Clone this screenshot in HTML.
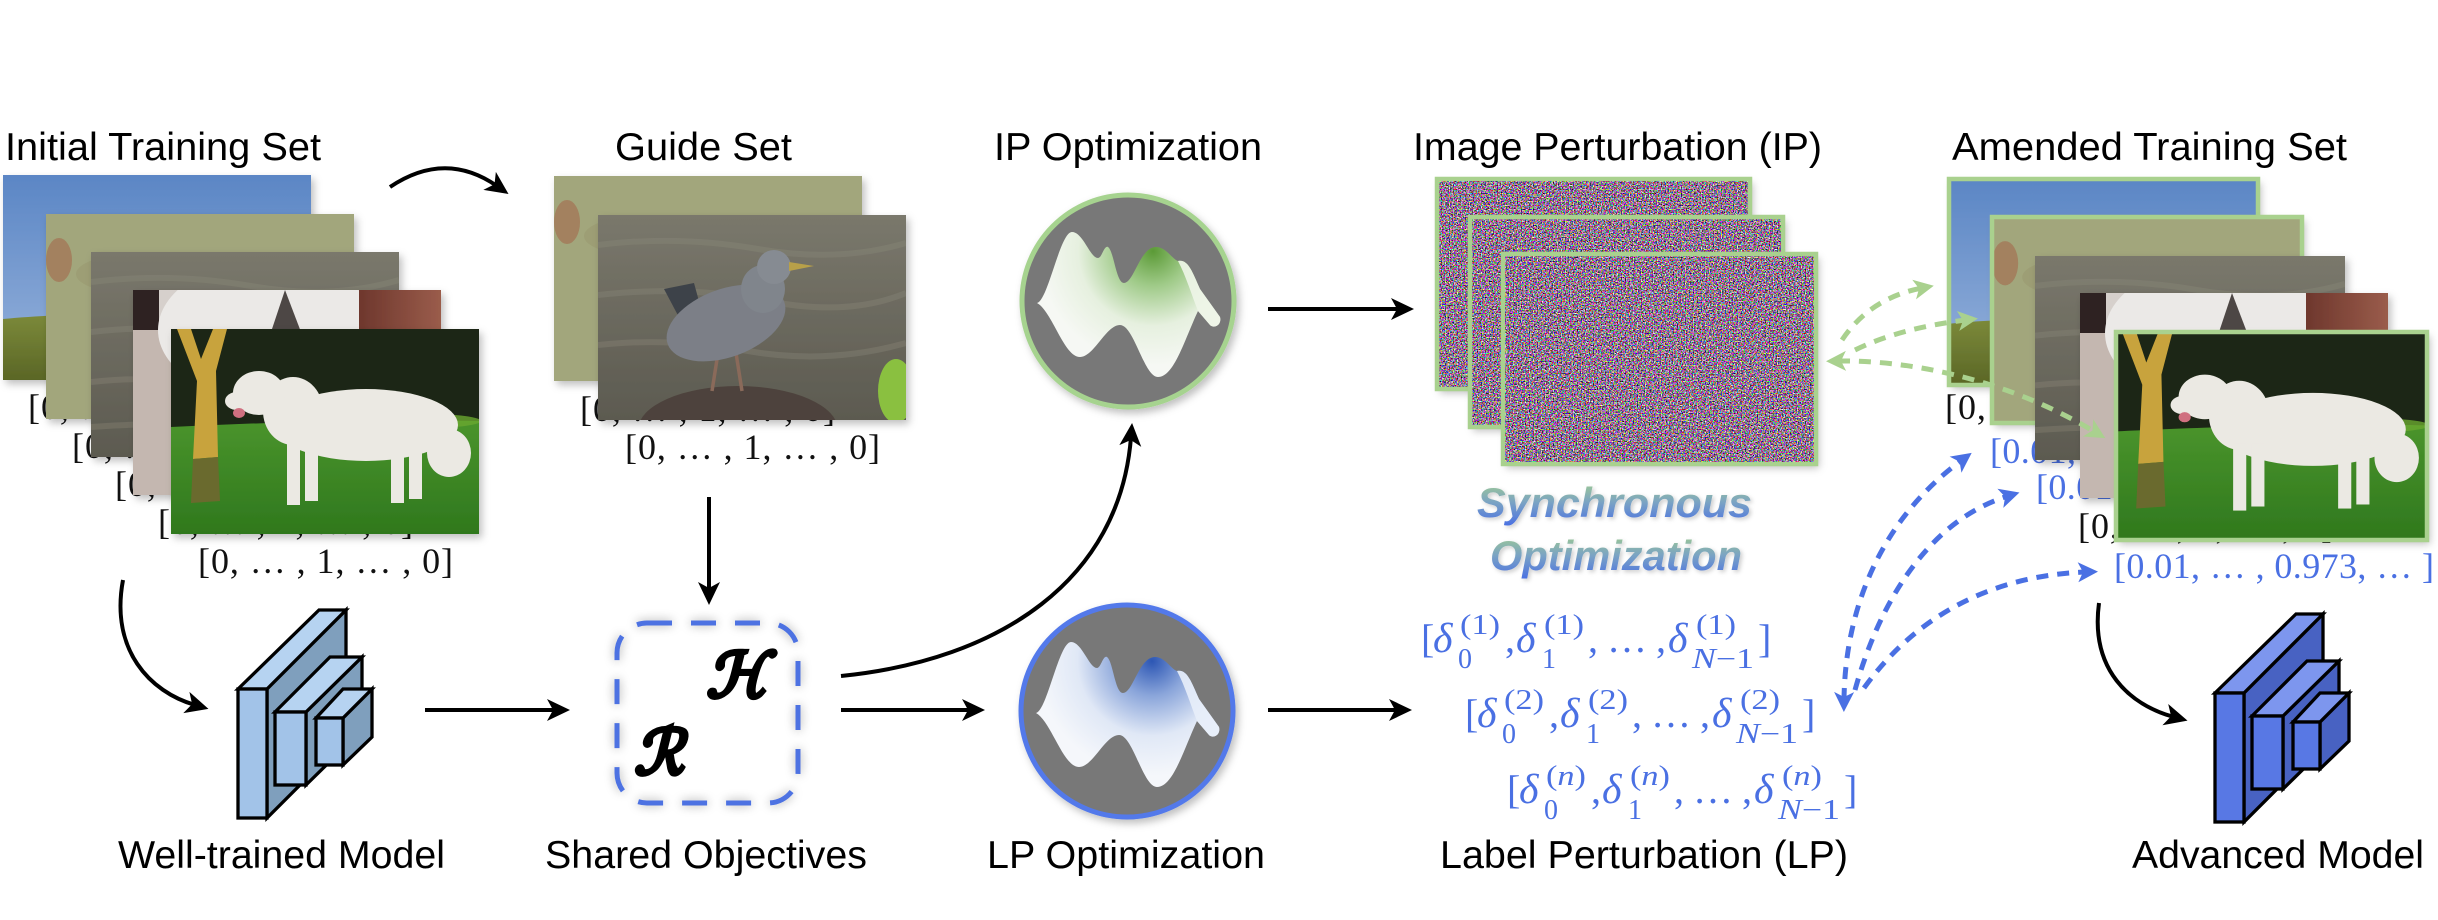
<!DOCTYPE html>
<html><head><meta charset="utf-8">
<style>
html,body{margin:0;padding:0;background:#fff;}
svg{display:block;}
.t{font-family:"Liberation Sans",Arial,sans-serif;font-size:39px;fill:#000;}
.s{font-family:"Liberation Serif","DejaVu Serif",serif;font-size:36px;fill:#111;}
.sb{font-family:"Liberation Serif","DejaVu Serif",serif;font-size:36px;fill:#4a70e3;}
.d{font-family:"Liberation Serif","DejaVu Serif",serif;fill:#4a70e3;}
</style></head><body>
<svg width="2438" height="920" viewBox="0 0 2438 920" xmlns="http://www.w3.org/2000/svg" xmlns:xlink="http://www.w3.org/1999/xlink">
<defs>
  <linearGradient id="gSky" x1="0" y1="0" x2="0" y2="1"><stop offset="0" stop-color="#5b86c5"/><stop offset="0.7" stop-color="#86a6d5"/><stop offset="1" stop-color="#8fb0da"/></linearGradient>
  <linearGradient id="gHill" x1="0" y1="0" x2="0" y2="1"><stop offset="0" stop-color="#7c8a3a"/><stop offset="1" stop-color="#5a6626"/></linearGradient>
  <linearGradient id="gWater" x1="0" y1="0" x2="0" y2="1"><stop offset="0" stop-color="#7a786c"/><stop offset="1" stop-color="#5c5a50"/></linearGradient>
  <linearGradient id="gBrown" x1="0" y1="0" x2="1" y2="0"><stop offset="0" stop-color="#6e372d"/><stop offset="1" stop-color="#9a5c4b"/></linearGradient>
  <linearGradient id="gGrass2" x1="0" y1="0" x2="0" y2="1"><stop offset="0" stop-color="#4a942c"/><stop offset="1" stop-color="#2f781d"/></linearGradient>
  <linearGradient id="gSync" x1="0" y1="0" x2="0" y2="1"><stop offset="0" stop-color="#a3cf8c"/><stop offset="0.5" stop-color="#7aa3c4"/><stop offset="1" stop-color="#4a70e3"/></linearGradient>
  <radialGradient id="gWaveG" cx="25" cy="-50" r="115" gradientUnits="userSpaceOnUse"><stop offset="0" stop-color="#5b9a36"/><stop offset="0.3" stop-color="#9fca88"/><stop offset="0.65" stop-color="#e6f0df"/><stop offset="1" stop-color="#f6f8f4"/></radialGradient>
  <radialGradient id="gWaveB" cx="25" cy="-50" r="115" gradientUnits="userSpaceOnUse"><stop offset="0" stop-color="#2c56b4"/><stop offset="0.3" stop-color="#8aa5da"/><stop offset="0.65" stop-color="#e0e8f6"/><stop offset="1" stop-color="#f5f7fb"/></radialGradient>

  <filter id="noise" x="0" y="0" width="1" height="1" filterUnits="objectBoundingBox" color-interpolation-filters="sRGB">
    <feTurbulence type="fractalNoise" baseFrequency="0.75" numOctaves="2" seed="3"/>
    <feColorMatrix type="matrix" values="3.4 0 0 0 -1.12  0 3.4 0 0 -1.25  0 0 3.4 0 -1.12  0 0 0 0 1"/>
  </filter>
  <filter id="sh" x="-10%" y="-10%" width="125%" height="130%">
    <feDropShadow dx="3" dy="4" stdDeviation="4" flood-color="#000" flood-opacity="0.25"/>
  </filter>
  <filter id="glow" x="-20%" y="-20%" width="140%" height="140%">
    <feDropShadow dx="0" dy="0" stdDeviation="5" flood-color="#000" flood-opacity="0.35"/>
  </filter>
  <filter id="tsh" x="-10%" y="-20%" width="120%" height="150%">
    <feDropShadow dx="2" dy="2" stdDeviation="2" flood-color="#000" flood-opacity="0.2"/>
  </filter>

  <marker id="ab" viewBox="-10 -12 26 24" refX="0" refY="0" markerWidth="26" markerHeight="24" markerUnits="userSpaceOnUse" orient="auto">
    <path d="M14,0 L-9,-11 L-3,0 L-9,11Z" fill="#000"/>
  </marker>
  <marker id="ag" viewBox="-10 -11 24 22" refX="0" refY="0" markerWidth="24" markerHeight="22" markerUnits="userSpaceOnUse" orient="auto-start-reverse">
    <path d="M12,0 L-8,-10 L-3,0 L-8,10Z" fill="#a9d18e"/>
  </marker>
  <marker id="abl" viewBox="-10 -11 24 22" refX="0" refY="0" markerWidth="24" markerHeight="22" markerUnits="userSpaceOnUse" orient="auto-start-reverse">
    <path d="M12,0 L-8,-10 L-3,0 L-8,10Z" fill="#4a70e3"/>
  </marker>

  <symbol id="pSky" viewBox="0 0 308 205" preserveAspectRatio="none">
    <rect width="308" height="205" fill="url(#gSky)"/>
    <path d="M0,144 C80,136 200,138 308,150 L308,205 L0,205Z" fill="url(#gHill)"/>
  </symbol>
  <symbol id="pGrass" viewBox="0 0 308 205" preserveAspectRatio="none">
    <rect width="308" height="205" fill="#a2a67b"/>
    <ellipse cx="90" cy="60" rx="60" ry="20" fill="#9a9a70" opacity="0.6"/>
    <ellipse cx="220" cy="140" rx="70" ry="25" fill="#adb084" opacity="0.6"/>
    <ellipse cx="150" cy="110" rx="40" ry="14" fill="#8f9066" opacity="0.5"/>
    <ellipse cx="13" cy="46" rx="13" ry="22" fill="#a3815f"/>
  </symbol>
  <symbol id="pWater" viewBox="0 0 308 205" preserveAspectRatio="none">
    <rect width="308" height="205" fill="url(#gWater)"/>
    <path d="M0,30 Q80,20 160,34 T308,28 M0,80 Q90,70 170,86 T308,78 M0,130 Q70,122 150,136 T308,128 M0,175 Q90,168 170,180 T308,172" stroke="#8c8a7a" stroke-width="6" fill="none" opacity="0.35"/>
  </symbol>
  <symbol id="pClose" viewBox="0 0 308 205" preserveAspectRatio="none">
    <rect width="308" height="205" fill="#d6d0cc"/>
    <rect x="0" y="0" width="26" height="70" fill="#2e2421"/>
    <rect x="0" y="40" width="40" height="165" fill="#c4b7b0"/>
    <ellipse cx="135" cy="40" rx="110" ry="70" fill="#ebe9e7"/>
    <rect x="226" y="0" width="82" height="205" fill="url(#gBrown)"/>
    <path d="M138,42 L152,0 L168,42Z" fill="#4e4644"/>
  </symbol>
  <symbol id="pDog" viewBox="0 0 308 205" preserveAspectRatio="none">
    <rect width="308" height="205" fill="#1b2513"/>
    <path d="M0,98 C80,94 200,90 308,92 L308,205 L0,205Z" fill="url(#gGrass2)"/>
    <ellipse cx="255" cy="92" rx="55" ry="7" fill="#6aa830" opacity="0.8"/>
    <path d="M6,0 L20,0 L30,30 L42,0 L56,0 L45,42 L47,128 L22,130 L26,52Z" fill="#c8a33c"/>
    <path d="M22,130 L47,128 L49,172 L20,174Z" fill="#6b6a2e"/>
    <g fill="#ebe9e3">
      <ellipse cx="195" cy="96" rx="92" ry="36"/>
      <ellipse cx="122" cy="82" rx="30" ry="34"/>
      <ellipse cx="88" cy="64" rx="26" ry="22"/>
      <ellipse cx="66" cy="72" rx="12" ry="9"/>
      <rect x="116" y="110" width="13" height="66"/>
      <rect x="134" y="110" width="13" height="62"/>
      <rect x="220" y="112" width="13" height="62"/>
      <rect x="238" y="112" width="13" height="58"/>
      <ellipse cx="278" cy="124" rx="22" ry="24"/>
    </g>
    <ellipse cx="68" cy="84" rx="6" ry="5" fill="#d07080"/>
  </symbol>
  <symbol id="pBird" viewBox="0 0 308 205" preserveAspectRatio="none">
    <rect width="308" height="205" fill="url(#gWater)"/>
    <path d="M0,30 Q80,20 160,34 T308,28 M0,80 Q90,70 170,86 T308,78 M0,130 Q70,122 150,136 T308,128" stroke="#8c8a7a" stroke-width="6" fill="none" opacity="0.35"/>
    <ellipse cx="140" cy="215" rx="100" ry="44" fill="#4d423c"/>
    <path d="M120,138 L114,176 M138,138 L144,176" stroke="#8a6a5a" stroke-width="3.5"/>
    <path d="M66,74 L96,68 L108,112 L84,108Z" fill="#3e4248"/>
    <ellipse cx="128" cy="108" rx="62" ry="34" fill="#7b7f87" transform="rotate(-20 128 108)"/>
    <ellipse cx="165" cy="74" rx="22" ry="24" fill="#80858c"/>
    <circle cx="176" cy="52" r="17" fill="#868b92"/>
    <path d="M191,47 L216,51 L191,56Z" fill="#b8a04a"/>
    <ellipse cx="298" cy="176" rx="18" ry="32" fill="#8ac040"/>
  </symbol>
</defs>

<rect width="2438" height="920" fill="#fff"/>

<!-- Titles -->
<text class="t" x="5" y="160" textLength="316" lengthAdjust="spacingAndGlyphs">Initial Training Set</text>
<text class="t" x="615" y="160" textLength="177" lengthAdjust="spacingAndGlyphs">Guide Set</text>
<text class="t" x="994" y="160" textLength="268" lengthAdjust="spacingAndGlyphs">IP Optimization</text>
<text class="t" x="1413" y="160" textLength="409" lengthAdjust="spacingAndGlyphs">Image Perturbation (IP)</text>
<text class="t" x="1952" y="160" textLength="395" lengthAdjust="spacingAndGlyphs">Amended Training Set</text>

<!-- Bottom labels -->
<text class="t" x="118" y="868" textLength="327" lengthAdjust="spacingAndGlyphs">Well-trained Model</text>
<text class="t" x="545" y="868" textLength="322" lengthAdjust="spacingAndGlyphs">Shared Objectives</text>
<text class="t" x="987" y="868" textLength="278" lengthAdjust="spacingAndGlyphs">LP Optimization</text>
<text class="t" x="1440" y="868" textLength="408" lengthAdjust="spacingAndGlyphs">Label Perturbation (LP)</text>
<text class="t" x="2132" y="868" textLength="292" lengthAdjust="spacingAndGlyphs">Advanced Model</text>

<!-- Initial training set -->
<use href="#pSky" x="3" y="175" width="308" height="205" filter="url(#sh)"/>
<text class="s" x="28" y="419" textLength="255" lengthAdjust="spacing">[0, … , 1, … , 0]</text>
<use href="#pGrass" x="46" y="214" width="308" height="205" filter="url(#sh)"/>
<text class="s" x="72" y="458" textLength="255" lengthAdjust="spacing">[0, … , 1, … , 0]</text>
<use href="#pWater" x="91" y="252" width="308" height="205" filter="url(#sh)"/>
<text class="s" x="115" y="496" textLength="255" lengthAdjust="spacing">[0, … , 1, … , 0]</text>
<use href="#pClose" x="133" y="290" width="308" height="205" filter="url(#sh)"/>
<text class="s" x="158" y="534" textLength="255" lengthAdjust="spacing">[0, … , 1, … , 0]</text>
<use href="#pDog" x="171" y="329" width="308" height="205" filter="url(#sh)"/>
<text class="s" x="198" y="573" textLength="255" lengthAdjust="spacing">[0, … , 1, … , 0]</text>

<!-- Guide set -->
<use href="#pGrass" x="554" y="176" width="308" height="205" filter="url(#sh)"/>
<text class="s" x="580" y="421" textLength="255" lengthAdjust="spacing">[0, … , 1, … , 0]</text>
<use href="#pBird" x="598" y="215" width="308" height="205" filter="url(#sh)"/>
<text class="s" x="625" y="459" textLength="255" lengthAdjust="spacing">[0, … , 1, … , 0]</text>

<!-- Black arrows -->
<g fill="none" stroke="#000" stroke-width="4" marker-end="url(#ab)">
  <path d="M390,187 Q445,150 497,186"/>
  <path d="M709,497 V591"/>
  <path d="M123,580 C110,650 150,692 195,705"/>
  <path d="M425,710 H556"/>
  <path d="M841,710 H971"/>
  <path d="M841,676 C1000,660 1120,580 1131,437"/>
  <path d="M1268,309 H1400"/>
  <path d="M1268,710 H1398"/>
  <path d="M2099,603 C2090,670 2130,705 2174,717"/>
</g>

<!-- Well-trained model -->
<g stroke="#000" stroke-width="3.3" stroke-linejoin="miter">
  <polygon points="267,689 346,610 346,739 267,818" fill="#7f9fbd"/>
  <polygon points="238,689 319,610 346,610 267,689" fill="#b6d3f1"/>
  <rect x="238" y="689" width="29" height="129" fill="#a2c3e8"/>
  <polygon points="306,712 362,657 362,730 306,785" fill="#7f9fbd"/>
  <polygon points="275,712 330,657 362,657 306,712" fill="#b6d3f1"/>
  <rect x="275" y="712" width="31" height="73" fill="#a2c3e8"/>
  <polygon points="343,718 372,689 372,737 343,765" fill="#7f9fbd"/>
  <polygon points="316,718 343,689 372,689 343,718" fill="#b6d3f1"/>
  <rect x="316" y="718" width="27" height="47" fill="#a2c3e8"/>
</g>

<!-- Advanced model -->
<g stroke="#000" stroke-width="3.3" transform="translate(1977,4)">
  <polygon points="267,689 346,610 346,739 267,818" fill="#4862c2"/>
  <polygon points="238,689 319,610 346,610 267,689" fill="#7d96ee"/>
  <rect x="238" y="689" width="29" height="129" fill="#5878e4"/>
  <polygon points="306,712 362,657 362,730 306,785" fill="#4862c2"/>
  <polygon points="275,712 330,657 362,657 306,712" fill="#7d96ee"/>
  <rect x="275" y="712" width="31" height="73" fill="#5878e4"/>
  <polygon points="343,718 372,689 372,737 343,765" fill="#4862c2"/>
  <polygon points="316,718 343,689 372,689 343,718" fill="#7d96ee"/>
  <rect x="316" y="718" width="27" height="47" fill="#5878e4"/>
</g>

<!-- Shared objectives -->
<rect x="617" y="623" width="181" height="180" rx="30" ry="30" fill="none" stroke="#4d72e2" stroke-width="5" stroke-dasharray="25 19" filter="url(#glow)"/>
<text x="706" y="697" font-family="'DejaVu Serif','Liberation Serif',serif" font-size="62" font-weight="bold" font-style="italic" fill="#000" stroke="#000" stroke-width="2.6">ℋ</text>
<text x="634" y="774" font-family="'DejaVu Serif','Liberation Serif',serif" font-size="62" font-weight="bold" font-style="italic" fill="#000" stroke="#000" stroke-width="2.6">ℛ</text>

<!-- IP circle -->
<circle cx="1128" cy="301" r="106" fill="#787878" stroke="#a6d38f" stroke-width="5" filter="url(#sh)"/>
<g transform="translate(1128,301)">
<path d="M-91,2 C-80,0 -68,-69 -56,-69 C-45,-69 -38,-43 -30,-43 C-26,-43 -24,-56 -20,-54 C-14,-50 -12,-18 -4,-18 C6,-18 12,-54 28,-54 C38,-54 44,-42 50,-40 C60,-42 64,-30 72,-12 L92,16 C94,24 86,28 82,24 L70,10 C56,40 46,76 30,76 C16,76 6,24 -8,24 C-22,24 -34,56 -48,56 C-64,56 -76,10 -91,2Z" fill="url(#gWaveG)"/>
<path d="M50,-40 C60,-42 64,-30 72,-12 L92,16 C94,24 86,28 82,24 L70,10 C64,-5 58,-25 50,-40Z" fill="#eef5e8" opacity="0.9"/>
</g>

<!-- LP circle -->
<circle cx="1127" cy="711" r="106" fill="#787878" stroke="#5279ea" stroke-width="5" filter="url(#sh)"/>
<g transform="translate(1127,711)">
<path d="M-91,2 C-80,0 -68,-69 -56,-69 C-45,-69 -38,-43 -30,-43 C-26,-43 -24,-56 -20,-54 C-14,-50 -12,-18 -4,-18 C6,-18 12,-54 28,-54 C38,-54 44,-42 50,-40 C60,-42 64,-30 72,-12 L92,16 C94,24 86,28 82,24 L70,10 C56,40 46,76 30,76 C16,76 6,24 -8,24 C-22,24 -34,56 -48,56 C-64,56 -76,10 -91,2Z" fill="url(#gWaveB)"/>
<path d="M50,-40 C60,-42 64,-30 72,-12 L92,16 C94,24 86,28 82,24 L70,10 C64,-5 58,-25 50,-40Z" fill="#e8eef9" opacity="0.9"/>
</g>

<!-- Noise images -->
<g filter="url(#sh)">
  <rect x="1437" y="179" width="313" height="210" filter="url(#noise)"/>
</g>
<rect x="1437" y="179" width="313" height="210" fill="none" stroke="#a9d18e" stroke-width="4.5"/>
<g filter="url(#sh)">
  <rect x="1470" y="217" width="313" height="210" filter="url(#noise)"/>
</g>
<rect x="1470" y="217" width="313" height="210" fill="none" stroke="#a9d18e" stroke-width="4.5"/>
<g filter="url(#sh)">
  <rect x="1503" y="254" width="313" height="210" filter="url(#noise)"/>
</g>
<rect x="1503" y="254" width="313" height="210" fill="none" stroke="#a9d18e" stroke-width="4.5"/>

<!-- Synchronous Optimization -->
<g filter="url(#tsh)" font-family="'Liberation Sans',Arial,sans-serif" font-weight="bold" font-style="italic" font-size="42" fill="url(#gSync)">
  <text x="1477" y="517" textLength="275" lengthAdjust="spacingAndGlyphs">Synchronous</text>
  <text x="1490" y="570" textLength="252" lengthAdjust="spacingAndGlyphs">Optimization</text>
</g>

<!-- Delta lines -->
<g class="d">
  <g>
    <text x="1421" y="652" font-size="40">[</text>
    <text x="1433" y="652" font-size="42" font-style="italic">δ</text>
    <text x="1460" y="634" font-size="28" textLength="40" lengthAdjust="spacingAndGlyphs">(1)</text>
    <text x="1458" y="668" font-size="28">0</text>
    <text x="1505" y="652" font-size="40">,</text>
    <text x="1516" y="652" font-size="42" font-style="italic">δ</text>
    <text x="1544" y="634" font-size="28" textLength="40" lengthAdjust="spacingAndGlyphs">(1)</text>
    <text x="1542" y="668" font-size="28">1</text>
    <text x="1588" y="652" font-size="40" textLength="78" lengthAdjust="spacing">, … ,</text>
    <text x="1668" y="652" font-size="42" font-style="italic">δ</text>
    <text x="1696" y="634" font-size="28" textLength="40" lengthAdjust="spacingAndGlyphs">(1)</text>
    <text x="1692" y="668" font-size="28" textLength="62" lengthAdjust="spacingAndGlyphs"><tspan font-style="italic">N</tspan>−1</text>
    <text x="1758" y="652" font-size="40">]</text>
  </g>
  <g transform="translate(44,75)">
    <text x="1421" y="652" font-size="40">[</text>
    <text x="1433" y="652" font-size="42" font-style="italic">δ</text>
    <text x="1460" y="634" font-size="28" textLength="40" lengthAdjust="spacingAndGlyphs">(2)</text>
    <text x="1458" y="668" font-size="28">0</text>
    <text x="1505" y="652" font-size="40">,</text>
    <text x="1516" y="652" font-size="42" font-style="italic">δ</text>
    <text x="1544" y="634" font-size="28" textLength="40" lengthAdjust="spacingAndGlyphs">(2)</text>
    <text x="1542" y="668" font-size="28">1</text>
    <text x="1588" y="652" font-size="40" textLength="78" lengthAdjust="spacing">, … ,</text>
    <text x="1668" y="652" font-size="42" font-style="italic">δ</text>
    <text x="1696" y="634" font-size="28" textLength="40" lengthAdjust="spacingAndGlyphs">(2)</text>
    <text x="1692" y="668" font-size="28" textLength="62" lengthAdjust="spacingAndGlyphs"><tspan font-style="italic">N</tspan>−1</text>
    <text x="1758" y="652" font-size="40">]</text>
  </g>
  <g transform="translate(86,151)">
    <text x="1421" y="652" font-size="40">[</text>
    <text x="1433" y="652" font-size="42" font-style="italic">δ</text>
    <text x="1460" y="634" font-size="28" textLength="40" lengthAdjust="spacingAndGlyphs">(<tspan font-style="italic">n</tspan>)</text>
    <text x="1458" y="668" font-size="28">0</text>
    <text x="1505" y="652" font-size="40">,</text>
    <text x="1516" y="652" font-size="42" font-style="italic">δ</text>
    <text x="1544" y="634" font-size="28" textLength="40" lengthAdjust="spacingAndGlyphs">(<tspan font-style="italic">n</tspan>)</text>
    <text x="1542" y="668" font-size="28">1</text>
    <text x="1588" y="652" font-size="40" textLength="78" lengthAdjust="spacing">, … ,</text>
    <text x="1668" y="652" font-size="42" font-style="italic">δ</text>
    <text x="1696" y="634" font-size="28" textLength="40" lengthAdjust="spacingAndGlyphs">(<tspan font-style="italic">n</tspan>)</text>
    <text x="1692" y="668" font-size="28" textLength="62" lengthAdjust="spacingAndGlyphs"><tspan font-style="italic">N</tspan>−1</text>
    <text x="1758" y="652" font-size="40">]</text>
  </g>
</g>

<!-- Amended training set -->
<use href="#pSky" x="1949" y="179" width="309" height="206" filter="url(#sh)"/>
<rect x="1949" y="179" width="309" height="206" fill="none" stroke="#a9d18e" stroke-width="4.5"/>
<text class="s" x="1945" y="419" textLength="255" lengthAdjust="spacing">[0, … , 1, … , 0]</text>
<use href="#pGrass" x="1992" y="217" width="310" height="206" filter="url(#sh)"/>
<rect x="1992" y="217" width="310" height="206" fill="none" stroke="#a9d18e" stroke-width="4.5"/>
<text class="sb" x="1990" y="463" textLength="320" lengthAdjust="spacing">[0.01, … , 0.973, … ]</text>
<use href="#pWater" x="2035" y="256" width="310" height="204" filter="url(#sh)"/>
<text class="sb" x="2036" y="499" textLength="320" lengthAdjust="spacing">[0.01, … , 0.973, … ]</text>
<use href="#pClose" x="2080" y="293" width="308" height="205" filter="url(#sh)"/>
<text class="s" x="2078" y="538" textLength="255" lengthAdjust="spacing">[0, … , 1, … , 0]</text>
<use href="#pDog" x="2116" y="332" width="311" height="208" filter="url(#sh)"/>
<rect x="2116" y="332" width="311" height="208" fill="none" stroke="#a9d18e" stroke-width="4.5"/>
<text class="sb" x="2114" y="578" textLength="320" lengthAdjust="spacing">[0.01, … , 0.973, … ]</text>

<!-- Green dashed arrows -->
<g fill="none" stroke="#a9d18e" stroke-width="5" stroke-dasharray="12 9">
  <path d="M1842,340 Q1870,298 1922,288" marker-end="url(#ag)"/>
  <path d="M1855,350 Q1900,328 1966,320" marker-end="url(#ag)"/>
  <path d="M1838,361 C1900,360 2000,375 2095,432" marker-start="url(#ag)" marker-end="url(#ag)"/>
</g>

<!-- Blue dashed arrows -->
<g fill="none" stroke="#4a70e3" stroke-width="5" stroke-dasharray="12 9">
  <path d="M1844,700 C1845,610 1880,520 1962,460" marker-start="url(#abl)" marker-end="url(#abl)"/>
  <path d="M1855,690 C1880,600 1930,520 2008,496" marker-end="url(#abl)"/>
  <path d="M1864,688 C1920,610 2000,575 2086,572" marker-end="url(#abl)"/>
</g>
</svg>
</body></html>
